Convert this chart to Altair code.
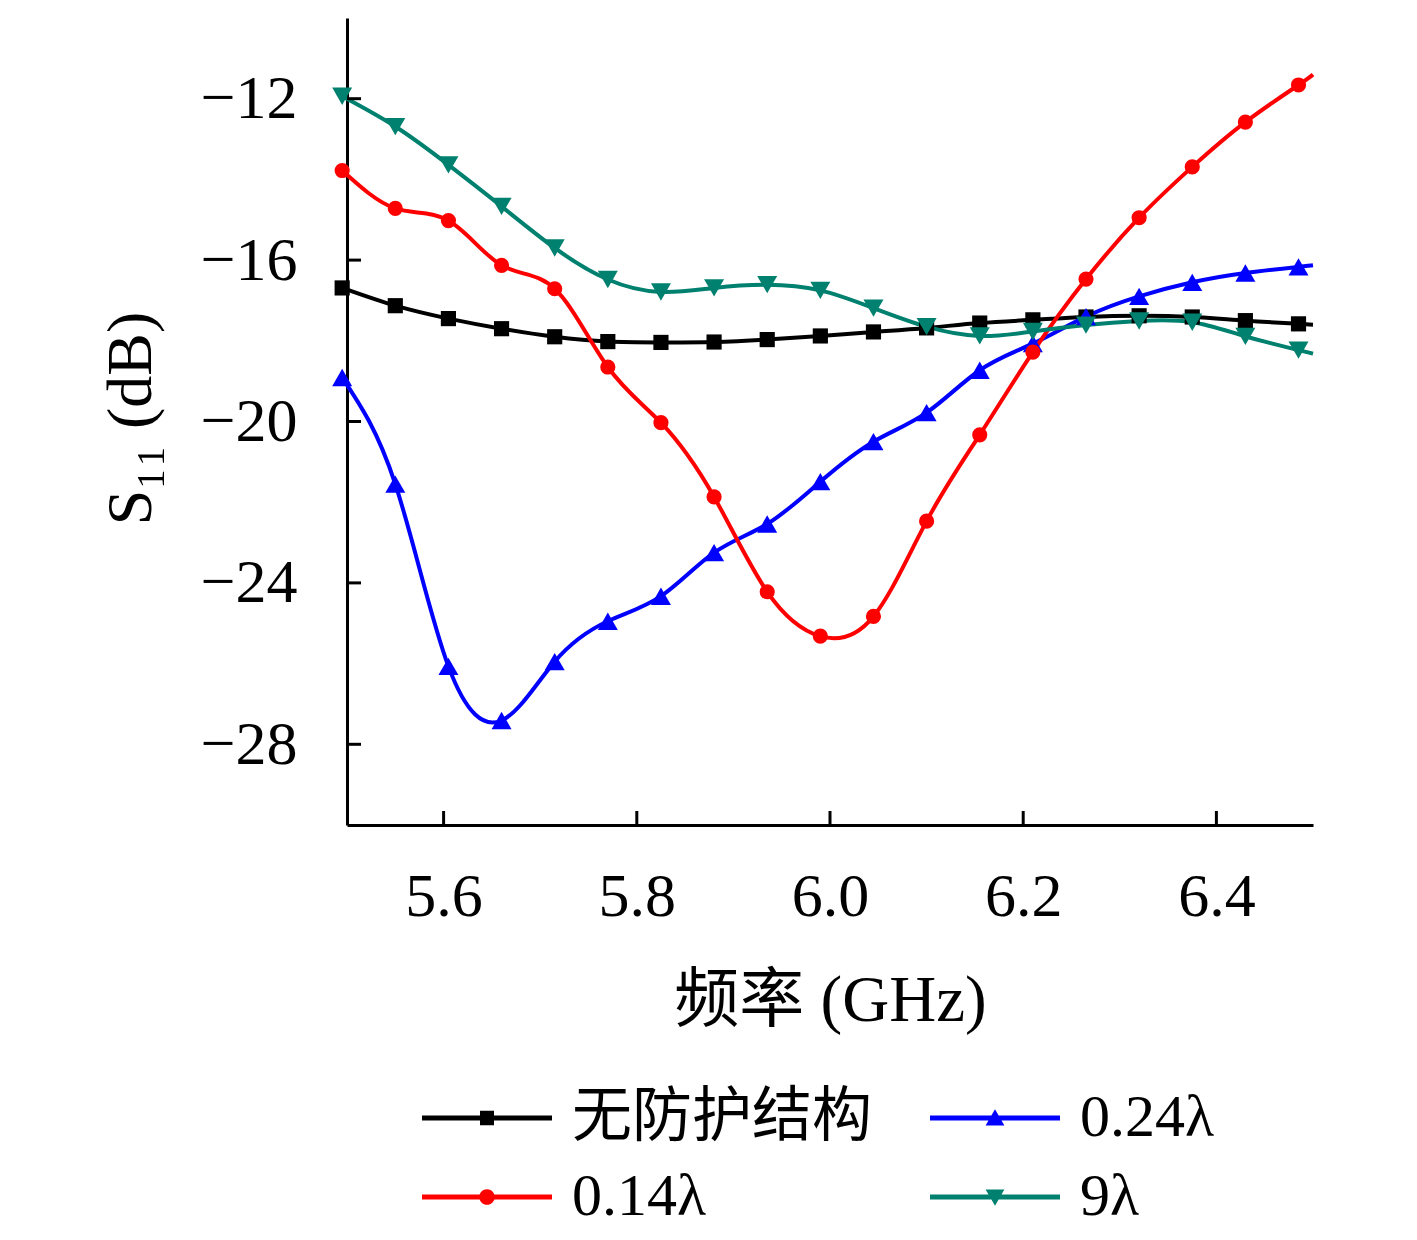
import altair as alt
import pandas as pd

# ---- data ----
freq = [5.495, 5.55, 5.605, 5.66, 5.715, 5.77, 5.825, 5.88, 5.935, 5.99,
        6.045, 6.10, 6.155, 6.21, 6.265, 6.32, 6.375, 6.43, 6.485]
freq_end = 6.5

s11_none = [-16.69, -17.13, -17.45, -17.70, -17.90, -18.02, -18.04, -18.03, -17.97, -17.88,
            -17.78, -17.68, -17.56, -17.48, -17.41, -17.38, -17.41, -17.50, -17.58]
s11_024 = [-18.91, -21.55, -26.07, -27.41, -25.95, -24.95, -24.33, -23.25, -22.54, -21.49,
           -20.50, -19.78, -18.73, -18.07, -17.40, -16.90, -16.55, -16.32, -16.17]
s11_014 = [-13.78, -14.72, -15.02, -16.13, -16.71, -18.65, -20.03, -21.87, -24.22, -25.32,
           -24.83, -22.47, -20.33, -18.28, -16.47, -14.95, -13.69, -12.58, -11.66]
s11_9 = [-11.94, -12.69, -13.64, -14.67, -15.70, -16.48, -16.79, -16.69, -16.61, -16.75,
         -17.19, -17.65, -17.88, -17.77, -17.61, -17.51, -17.54, -17.89, -18.23]
end_vals = [-17.60, -16.13, -11.40, -18.32]

names = ["无防护结构", "0.24λ", "0.14λ", "9λ"]
series_vals = [s11_none, s11_024, s11_014, s11_9]
colors = ["#000000", "#0000ff", "#ff0000", "#00806e"]
shapes = ["square", "triangle-up", "circle", "triangle-down"]
marker_sizes = [230, 400, 230, 400]

# legend is filled column by column: this order gives the reference's rows
legend_order = ["无防护结构", "0.14λ", "0.24λ", "9λ"]

x_ticks = [5.6, 5.8, 6.0, 6.2, 6.4]
y_ticks = [-28, -24, -20, -16, -12]

# legend symbols: line + marker as custom paths (all wound clockwise)
LINE = "M-1.5,-0.12H5V0.12H-1.5Z "
marker_paths = {
    "square": "M1.4,-0.36H2.1V0.36H1.4Z",
    "triangle-up": "M1.75,-0.44L2.22,0.38L1.28,0.38Z",
    "circle": "M2.14,0A0.39,0.39,0,1,1,1.36,0A0.39,0.39,0,1,1,2.14,0Z",
    "triangle-down": "M1.75,0.44L1.28,-0.38L2.22,-0.38Z",
}
shape_of = dict(zip(names, shapes))
color_of = dict(zip(names, colors))
legend_paths = [LINE + marker_paths[shape_of[n]] for n in legend_order]
legend_colors = [color_of[n] for n in legend_order]

# ---- tables ----
rows = []
for n, vals in zip(names, series_vals):
    for f, v in zip(freq, vals):
        rows.append({"freq": f, "s11": v, "series": n})
marker_df = pd.DataFrame(rows)
line_rows = list(rows)
for n, v in zip(names, end_vals):
    line_rows.append({"freq": freq_end, "s11": v, "series": n})
line_df = pd.DataFrame(line_rows)

W, H = 966, 807
SERIF = "Liberation Serif"
MIXED = "Liberation Serif, Noto Sans CJK SC"

xscale = alt.Scale(domain=[5.5, 6.5], nice=False, zero=False)
yscale = alt.Scale(domain=[-30, -10], nice=False, zero=False)

x_axis = alt.Axis(title="频率 (GHz)", values=x_ticks, format=".1f", ticks=False, tickSize=0,
                  labelPadding=41, labelFont=SERIF, labelFontSize=62, labelColor="black",
                  labelFlush=False, labelOverlap=False,
                  domainColor="black", domainWidth=3, grid=False,
                  titleFont=MIXED, titleFontSize=65, titleFontWeight="normal", titleColor="black",
                  titleX=483, titleY=195, titleBaseline="alphabetic", titleAlign="center")
y_axis = alt.Axis(title="S₁₁ (dB)", values=y_ticks, ticks=False, tickSize=0,
                  labelPadding=50, labelFont=SERIF, labelFontSize=62, labelColor="black",
                  labelFlush=False, labelOverlap=False,
                  domainColor="black", domainWidth=3, grid=False,
                  titleFont=SERIF, titleFontSize=64, titleFontWeight="normal", titleColor="black",
                  titleAngle=270, titleX=-197, titleY=400, titleBaseline="alphabetic",
                  titleAlign="center")

X = alt.X("freq:Q", scale=xscale, axis=x_axis)
Y = alt.Y("s11:Q", scale=yscale, axis=y_axis)

layers = []
for n, c in zip(names, colors):
    layers.append(
        alt.Chart(line_df).transform_filter(alt.datum.series == n)
        .mark_line(color=c, strokeWidth=4, interpolate="natural")
        .encode(x=X, y=Y, order="freq:Q")
    )
for n, c, sh, sz in zip(names, colors, shapes, marker_sizes):
    layers.append(
        alt.Chart(marker_df).transform_filter(alt.datum.series == n)
        .mark_point(color=c, shape=sh, size=sz, filled=True, opacity=1)
        .encode(x=X, y=Y)
    )

# inward ticks
ytick_df = pd.DataFrame({"s11": y_ticks})
xtick_df = pd.DataFrame({"freq": x_ticks})
layers.append(
    alt.Chart(ytick_df).mark_rule(color="black", strokeWidth=3)
    .encode(y=Y, x=alt.value(0), x2=alt.value(14))
)
layers.append(
    alt.Chart(xtick_df).mark_rule(color="black", strokeWidth=3)
    .encode(x=X, y=alt.value(H), y2=alt.value(H - 14))
)

legend = alt.Legend(title=None, orient="none", legendX=75, legendY=1070, columns=2,
                    columnPadding=58, rowPadding=19, padding=0,
                    labelFont=MIXED, labelFontSize=60, labelColor="black", labelOffset=90,
                    labelLimit=1000, symbolSize=1600, symbolStrokeWidth=0, symbolOpacity=1)

layers.append(
    alt.Chart(marker_df).transform_filter("false")
    .mark_point(filled=True, opacity=1)
    .encode(x=X, y=Y,
            color=alt.Color("series:N", scale=alt.Scale(domain=legend_order, range=legend_colors),
                            legend=legend),
            shape=alt.Shape("series:N", scale=alt.Scale(domain=legend_order, range=legend_paths),
                            legend=legend))
)

chart = alt.layer(*layers).properties(
    width=W, height=H,
    autosize=alt.AutoSizeParams(type="none"),
    padding={"left": 339, "top": 10, "right": 90, "bottom": 405},
    background="white",
).configure_view(stroke=None)

chart.save("out.html", embed_options={"renderer": "svg", "actions": False})
